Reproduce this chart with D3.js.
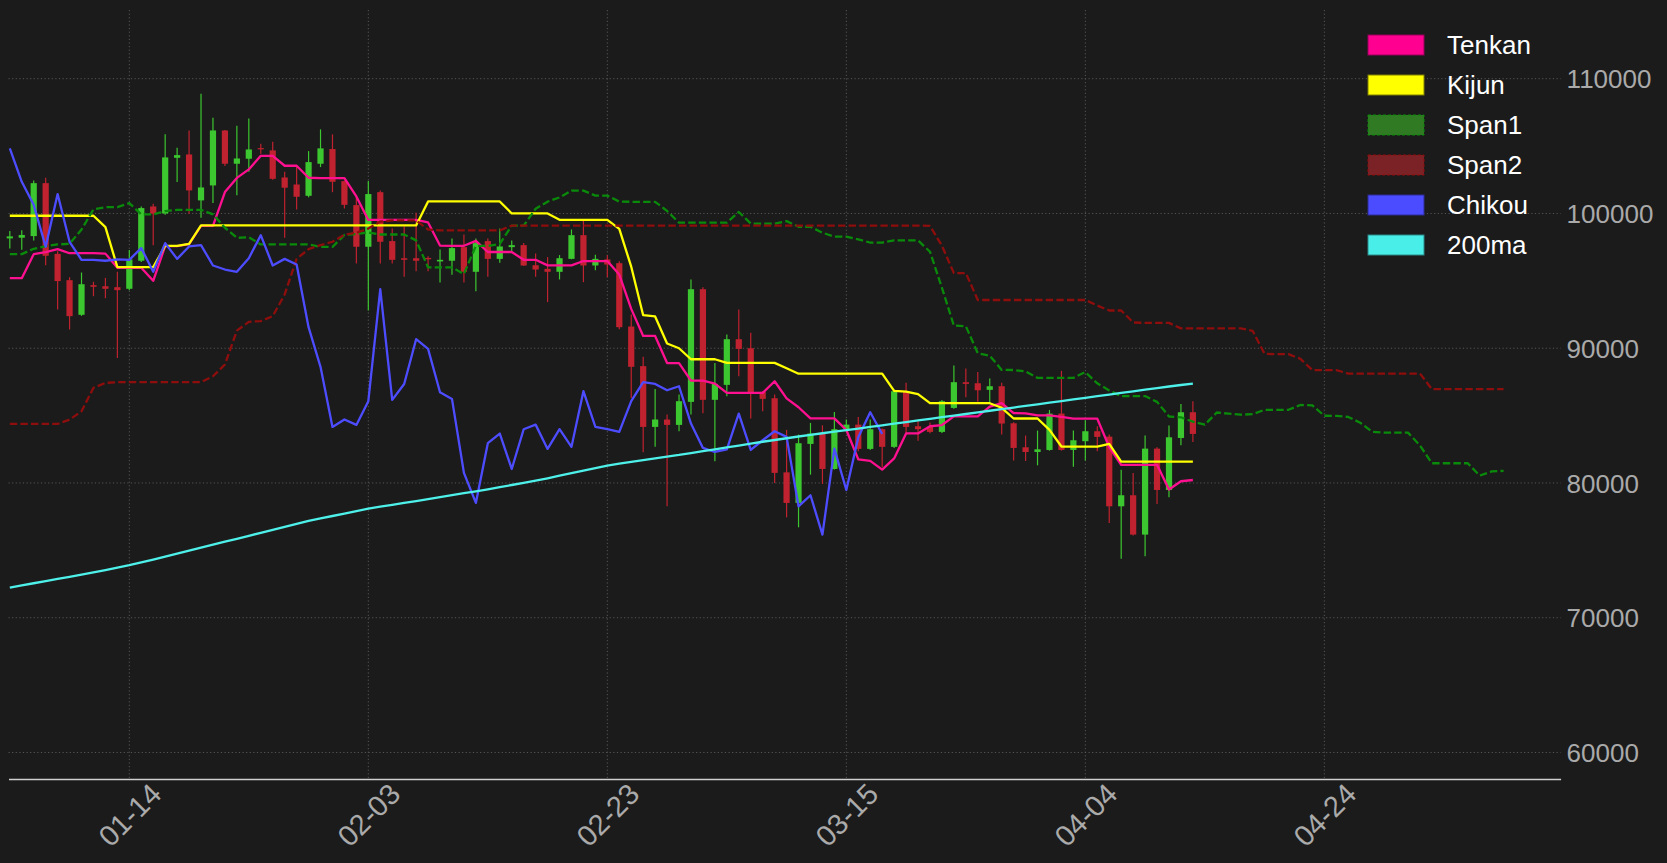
<!DOCTYPE html>
<html><head><meta charset="utf-8">
<script src="https://cdn.jsdelivr.net/npm/d3@7"></script>
<style>html,body{margin:0;padding:0;background:#1b1b1b;overflow:hidden}</style>
</head><body>
<svg id="chart" width="1667" height="863"></svg>
<script>
// ---------- data ----------
const startDate = "2025-01-04";            // first candle
const tickLabels = ["01-14","02-03","02-23","03-15","04-04","04-24"];
const yTicks = [60000,70000,80000,90000,100000,110000];
const seriesNames = ["Tenkan","Kijun","Span1","Span2","Chikou","200ma"];

const open = [98150,98200,98320,102250,97000,95050,92480,94680,94600,94530,
94410,96490,100520,100000,104130,104380,100970,102080,106160,103690,
104060,104850,104680,102670,102150,101310,103690,104780,102400,100620,
97530,101580,97950,96680,96680,96700,96440,96490,97500,95670,
97950,96630,97500,97650,96160,95890,95670,96630,98390,96140,
96590,96310,91610,88670,84160,84710,84310,86020,94380,86170,
87280,90670,90000,86760,86290,80790,78520,82900,83670,81040,
83990,84330,82530,83990,82680,86810,84210,84160,83790,85570,
87480,87400,86910,87180,84430,82650,82300,82450,85150,82450,
83100,83840,83440,78270,79090,76170,82550,79480,83340,85250];
const high = [98700,98750,102450,102650,97200,95270,95620,94930,95220,95670,
97280,100520,100720,105870,104880,106160,108890,107100,106200,106510,
107050,105170,105320,103090,103440,104630,106240,105870,102450,101360,
102400,101710,98890,99040,100050,96830,97330,98140,98440,98140,
98140,98890,98000,97800,97030,96760,96910,98810,99530,96930,
96900,96460,92500,89360,86980,85080,86560,95100,94530,88910,
91020,92870,91140,86800,86560,83940,83590,84460,84280,85270,
84710,84900,84710,84050,86930,87430,84650,84480,86150,88710,
88490,88240,87750,87430,84500,83520,83890,85420,88320,83890,
84650,84210,83590,80990,80740,83520,82650,84260,85870,86070];
const low = [97400,97300,97990,96160,92870,91390,92400,93860,93710,89280,
94300,96400,97650,99900,102330,99980,99680,100770,103520,101360,
103090,104430,102500,98190,100300,101200,103440,101580,100370,96290,
92800,96290,96290,95300,95720,95720,94880,95450,94880,94230,
95300,96340,97200,96100,95300,93420,95100,96600,94900,95790,
95270,91410,86310,82280,82680,78270,83840,85080,85180,81610,
86440,87920,84780,85320,80000,77450,76710,80620,79930,81000,
83840,82350,82450,81170,82600,83590,83140,83690,83700,85500,
86360,86020,85940,83590,81660,81630,81310,82400,82400,81210,
81660,82350,77030,74380,76100,74560,78440,78940,82800,83050];
const close = [98300,98400,102250,96860,94980,92380,94750,94560,94410,94310,
96590,100400,99980,104160,104330,101710,101930,106160,103690,104080,
104750,104800,102570,101910,101240,103810,104830,102350,100640,97530,
101440,97900,96560,96560,96490,96600,96560,97430,95670,97800,
96630,97550,97650,96140,95840,95670,96680,98390,96140,96630,
96210,91560,88620,84160,84710,84310,86070,94380,86170,87350,
90670,89950,86730,86240,80750,78520,82950,83670,81040,83990,
84330,82530,83990,82680,86810,84160,83990,83790,86070,87480,
87350,86880,87180,84410,82600,82300,82500,85150,82450,83170,
83840,83420,78270,79090,76170,82550,79480,83390,85250,83640];

const tenkan = [95200,95200,96980,97130,97350,97050,97050,97050,97020,95970,
95970,95970,95000,97580,97580,97720,99080,99080,101590,102640,
103270,104280,104280,103540,103540,102650,102620,102620,102620,101260,
99520,99520,99520,99520,99520,99330,97620,97600,97600,97970,
97140,97140,97140,96560,96560,96150,96150,96150,96470,96470,
96470,95470,92920,90910,90910,88900,88900,87600,87590,87370,
86690,86690,86690,86690,87550,86280,85620,84790,84790,84790,
83930,81760,81640,80990,81820,83680,83680,84210,84300,84940,
84940,84940,85660,85930,85190,85170,85010,85010,84900,84770,
84770,84770,82670,81350,81350,81350,81350,79520,80130,80220];
const kijun = [99830,99830,99830,99830,99830,99830,99830,99830,98990,96015,
96015,96015,96015,97600,97600,97750,99110,99110,99110,99110,
99110,99110,99110,99110,99110,99110,99110,99110,99110,99110,
99110,99110,99110,99110,99110,100890,100890,100890,100890,100890,
100890,100890,100000,100000,100000,100000,99530,99530,99530,99530,
99530,98850,96050,92450,92360,90350,90000,89180,89180,89180,
88910,88910,88910,88910,88910,88510,88110,88110,88110,88110,
88110,88110,88110,88110,86830,86780,86600,85920,85920,85920,
85920,85920,85920,85580,84785,84785,84785,83940,82705,82705,
82705,82705,82900,81580,81580,81580,81580,81580,81580,81580];
const span1 = [96980,96980,97380,97575,97700,97750,98810,100300,100470,100470,
100770,99930,99930,100170,100270,100270,100270,99930,98940,98190,
98240,97700,97700,97700,97700,97700,97515,97515,98405,98480,
98590,98440,98440,98440,98005,95993,95993,95993,95508,97590,
97590,97735,99095,99095,100350,100875,101190,101695,101695,101325,
101325,100880,100865,100865,100865,100185,99315,99315,99315,99315,
99315,100110,99255,99245,99245,99430,99015,99015,98570,98280,
98280,98075,97840,97840,98000,98000,98000,97160,94485,91680,
91635,89625,89450,88390,88385,88275,87800,87800,87800,87800,
88230,87395,86865,86450,86450,86450,86020,84935,84875,84550,
84325,85230,85140,85065,85110,85430,85430,85430,85790,85755,
84988,84978,84898,84475,83803,83738,83738,83738,82785,81465,
81465,81465,81465,80550,80855,80900];
const span2 = [84380,84380,84380,84380,84380,84700,85320,87060,87430,87480,
87480,87480,87480,87480,87480,87480,87480,87920,88790,91310,
91960,92010,92380,93990,96630,97350,97650,97900,98420,98570,
98880,99400,99480,99480,99480,98810,98740,98740,98740,98740,
98740,98740,99100,99100,99100,99100,99100,99100,99100,99100,
99100,99100,99100,99100,99100,99100,99100,99100,99100,99100,
99100,99100,99100,99100,99100,99100,99100,99100,99100,99100,
99100,99100,99100,99100,99100,99100,99100,99084,97600,95580,
95580,93580,93580,93580,93580,93580,93580,93580,93580,93580,
93580,93170,92800,92800,91910,91880,91880,91880,91470,91470,
91470,91470,91470,91470,91290,89580,89560,89560,89210,88380,
88380,88380,88120,88120,88120,88120,88120,88120,88120,86960,
86960,86960,86960,86960,86960,86960];
const chikou = [104830,102350,100640,97530,101440,97900,96560,96560,96490,96600,
96560,97430,95670,97800,96630,97550,97650,96140,95840,95670,
96680,98390,96140,96630,96210,91560,88620,84160,84710,84310,
86070,94380,86170,87350,90670,89950,86730,86240,80750,78520,
82950,83670,81040,83990,84330,82530,83990,82680,86810,84160,
83990,83790,86070,87480,87350,86880,87180,84410,82600,82300,
82500,85150,82450,83170,83840,83420,78270,79090,76170,82550,
79480,83390,85250,83640];
const ma200 = [72230,72400,72560,72720,72880,73040,73200,73370,73540,73720,
73900,74110,74320,74540,74760,74980,75200,75420,75640,75860,
76080,76300,76520,76740,76960,77180,77370,77550,77730,77910,
78090,78240,78380,78520,78660,78800,78950,79100,79240,79380,
79530,79690,79850,80010,80170,80350,80540,80730,80920,81110,
81290,81430,81560,81700,81830,81960,82080,82220,82360,82500,
82640,82780,82920,83060,83190,83320,83450,83570,83690,83810,
83920,84040,84160,84280,84400,84520,84640,84760,84880,85000,
85120,85240,85360,85480,85600,85720,85840,85960,86080,86200,
86320,86440,86560,86680,86800,86920,87040,87160,87270,87380];

// ---------- chart ----------
(function () {
const W = 1667, H = 863;
const FONT = "'Liberation Sans', Arial, sans-serif";
const svg = d3.select("#chart");
svg.append("rect").attr("width", W).attr("height", H).attr("fill", "#1b1b1b");

const DAY = 864e5;
const t0 = d3.utcParse("%Y-%m-%d")(startDate);
const dateAt = i => new Date(+t0 + i * DAY);
const tickDates = tickLabels.map(l => d3.utcParse("%Y-%m-%d")("2025-" + l));

const pL = 8.5, pR = 1560.6, pT = 10, pB = 779;
const x = d3.scaleUtc().domain([dateAt(-0.11), dateAt(129.77)]).range([pL, pR]);
const y = d3.scaleLinear().domain([58034, 115098]).range([pB, pT]);

// grid
const grid = svg.append("g");
grid.selectAll("line.h").data(yTicks).join("line").attr("class", "h")
  .attr("x1", pL).attr("x2", pR).attr("y1", d => y(d)).attr("y2", d => y(d))
  .attr("stroke", "#5c5c5c").attr("stroke-width", 0.9).attr("stroke-dasharray", "1.2,2.4");
grid.selectAll("line.v").data(tickDates).join("line").attr("class", "v")
  .attr("y1", pT).attr("y2", pB).attr("x1", d => x(d)).attr("x2", d => x(d))
  .attr("stroke", "#5c5c5c").attr("stroke-width", 0.9).attr("stroke-dasharray", "1.2,2.4");

// candles
const GREEN = "#3cc62f", RED = "#c0222f";
const idx = d3.range(open.length);
const cg = svg.append("g");
cg.selectAll("line").data(idx).join("line")
  .attr("x1", i => x(dateAt(i))).attr("x2", i => x(dateAt(i)))
  .attr("y1", i => y(high[i])).attr("y2", i => y(low[i]))
  .attr("stroke", i => close[i] >= open[i] ? GREEN : RED).attr("stroke-width", 1.2);
const bw = (x(dateAt(1)) - x(dateAt(0))) * 0.52;
cg.selectAll("rect").data(idx).join("rect")
  .attr("x", i => x(dateAt(i)) - bw / 2).attr("width", bw)
  .attr("y", i => y(Math.max(open[i], close[i])))
  .attr("height", i => Math.max(1.2, Math.abs(y(open[i]) - y(close[i]))))
  .attr("fill", i => close[i] >= open[i] ? GREEN : RED);

// lines
const line = d3.line().x((d, i) => x(dateAt(i))).y(d => y(d));
const lines = [
  {data: tenkan, color: "#ff1090", dash: null},
  {data: kijun, color: "#ffff00", dash: null},
  {data: span1, color: "#0a8a0a", dash: "7.4,3.2"},
  {data: span2, color: "#8e0d0d", dash: "7.4,3.2"},
  {data: chikou, color: "#4d4dff", dash: null},
  {data: ma200, color: "#4ef0ea", dash: null}
];
svg.append("g").selectAll("path").data(lines).join("path")
  .attr("d", s => line(s.data)).attr("fill", "none")
  .attr("stroke", s => s.color).attr("stroke-width", 2.3)
  .attr("stroke-dasharray", s => s.dash).attr("stroke-linejoin", "round");

// x axis
const xAxis = d3.axisBottom(x).tickValues(tickDates).tickFormat(d3.utcFormat("%m-%d")).tickSize(0);
const gx = svg.append("g").attr("transform", `translate(0,${pB})`).call(xAxis);
gx.select(".domain").attr("stroke", "#d0d0d0").attr("stroke-width", 1.6);
gx.selectAll("text").attr("y", 0).attr("dy", null)
  .attr("fill", "#aaaaaa").attr("font-size", 29).attr("font-family", FONT)
  .attr("text-anchor", "middle").attr("dominant-baseline", "central")
  .attr("transform", "translate(0,36) rotate(-45)");

// y axis
const yAxis = d3.axisRight(y).tickValues(yTicks).tickFormat(d3.format("d")).tickSize(0).tickPadding(6);
const gy = svg.append("g").attr("transform", `translate(${pR},0)`).call(yAxis);
gy.select(".domain").remove();
gy.selectAll("text").attr("fill", "#aaaaaa").attr("font-size", 26).attr("font-family", FONT)
  .attr("dy", "0.35em");

// legend
const legendFill = ["#ff0090", "#ffff00", "#2f7a22", "#7a2226", "#4b4bff", "#4aeee8"];
const legendEdge = ["#99005a", "#808000", "#0a8a0a", "#8e0d0d", "#2d2d99", "#2a8a88"];
const lg = svg.append("g").attr("transform", "translate(1368,35)");
const item = lg.selectAll("g").data(seriesNames).join("g")
  .attr("transform", (d, i) => `translate(0,${i * 40})`);
item.append("rect").attr("width", 56).attr("height", 20)
  .attr("fill", (d, i) => legendFill[i]).attr("stroke", (d, i) => legendEdge[i])
  .attr("stroke-width", 1).attr("stroke-dasharray", (d, i) => (i === 2 || i === 3) ? "3,2" : null);
item.append("text").attr("x", 79).attr("y", 10).attr("dy", "0.35em")
  .attr("fill", "#ffffff").attr("font-size", 26).attr("font-family", FONT).text(d => d);
})();
</script>
</body></html>
